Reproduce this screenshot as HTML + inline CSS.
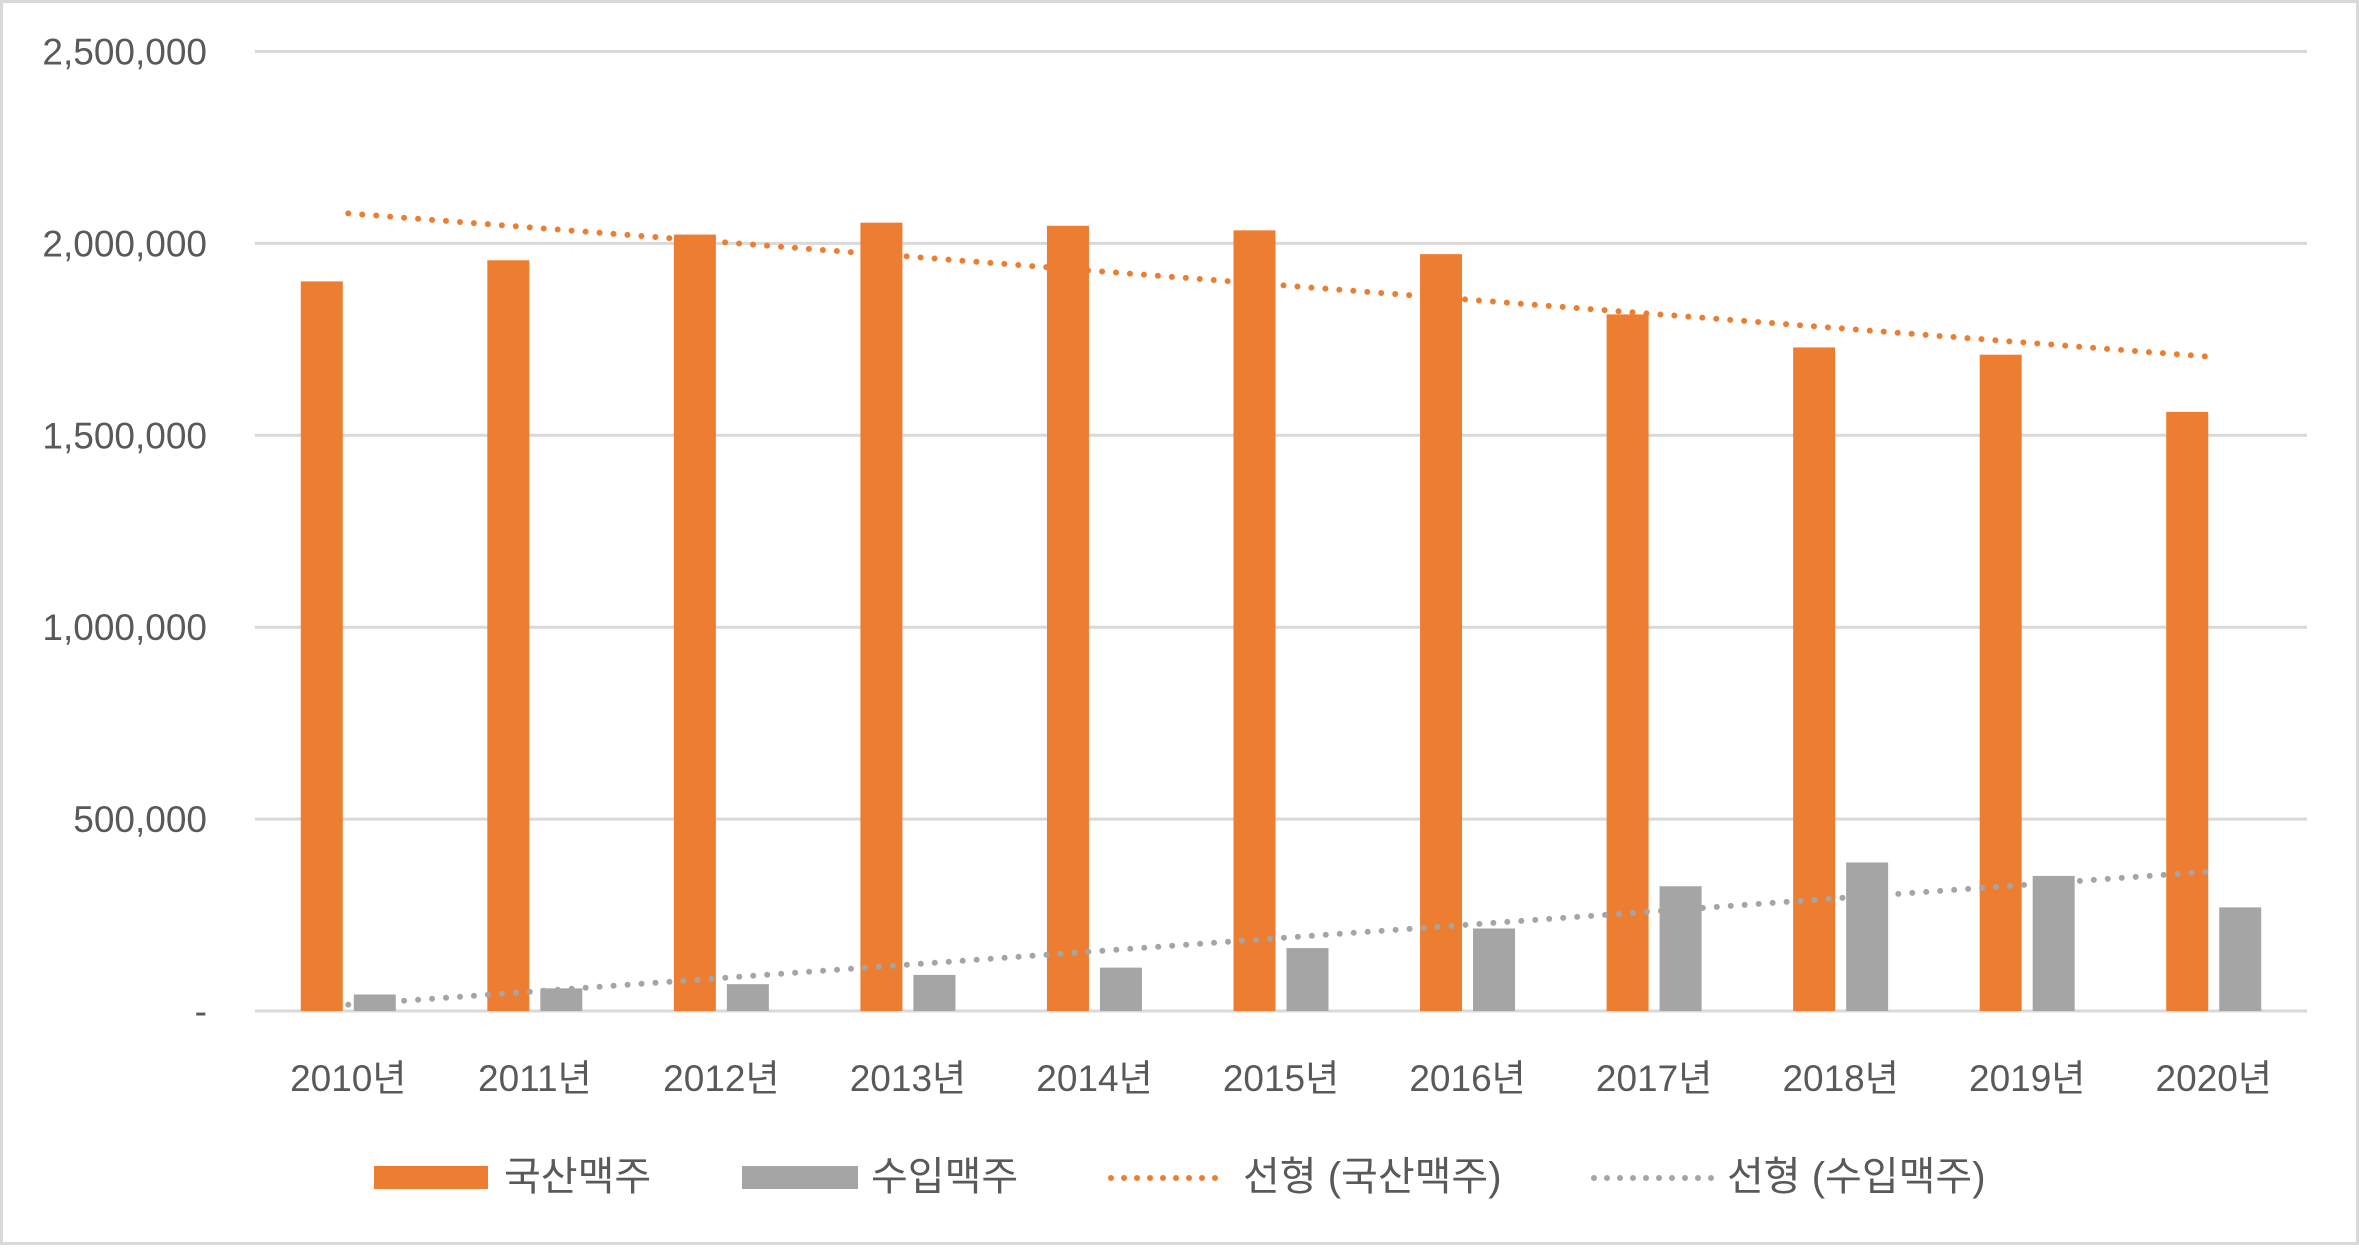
<!DOCTYPE html>
<html><head><meta charset="utf-8"><style>
html,body{margin:0;padding:0;background:#fff}
svg text{font-family:"Liberation Sans","Noto Sans CJK KR",sans-serif;fill:#595959}
</style></head><body>
<svg id="chart" width="2359" height="1245" viewBox="0 0 2359 1245" xmlns="http://www.w3.org/2000/svg">
<rect x="1.5" y="1.5" width="2356" height="1242" fill="#fff" stroke="#d9d9d9" stroke-width="3"/>
<g id="grid"></g><g id="bars"></g><g id="trends"></g><g id="labels"></g>
<g id="legend">
<rect x="374" y="1166" width="114" height="23" fill="#ed7d31"/>
<text x="504" y="1190" font-size="40">국산맥주</text>
<rect x="742" y="1166" width="116" height="23" fill="#a5a5a5"/>
<text x="871" y="1190" font-size="40">수입맥주</text>
<line x1="1111" y1="1178" x2="1226" y2="1178" stroke="#ed7d31" stroke-width="6" stroke-linecap="round" stroke-dasharray="0 13"/>
<text x="1243" y="1190" font-size="40">선형 (국산맥주)</text>
<line x1="1594" y1="1178" x2="1712" y2="1178" stroke="#a5a5a5" stroke-width="6" stroke-linecap="round" stroke-dasharray="0 13"/>
<text x="1727" y="1190" font-size="40">선형 (수입맥주)</text>
</g>
</svg>
<script>
const categories = ["2010년","2011년","2012년","2013년","2014년","2015년","2016년","2017년","2018년","2019년","2020년"];
const domestic = [1901000,1956000,2023000,2054000,2046000,2034000,1972000,1815000,1729000,1710000,1561000];
const imported = [43000,59000,70000,94000,113000,164000,215000,325000,387000,352000,270000];
const yTicks = [0,500000,1000000,1500000,2000000,2500000];
const yTickLabels = ["-","500,000","1,000,000","1,500,000","2,000,000","2,500,000"];

const NS="http://www.w3.org/2000/svg";
const L=255,R=2307,T=51.5,B=1011,YMAX=2500000;
const bw=(R-L)/categories.length, barW=42, gap=11;
const y=v=>B-(v/YMAX)*(B-T);
const xc=i=>L+bw*(i+0.5);
function mk(tag,attrs,parent){const e=document.createElementNS(NS,tag);for(const k in attrs)e.setAttribute(k,attrs[k]);parent.appendChild(e);return e;}
const grid=document.getElementById('grid'),bars=document.getElementById('bars'),trends=document.getElementById('trends'),labels=document.getElementById('labels');
yTicks.forEach((t,i)=>{
  const ln=mk('line',{x1:L,x2:R,y1:y(t),y2:y(t),stroke:'#d9d9d9','stroke-width':3},grid);
  
  
  const tx=mk('text',{x:207,y:y(t)+13,'text-anchor':'end','font-size':37},labels);
  tx.textContent=yTickLabels[i];
  
  
});
categories.forEach((c,i)=>{
  const b1=mk('rect',{x:xc(i)-gap/2-barW,y:y(domestic[i]),width:barW,height:B-y(domestic[i]),fill:'#ed7d31'},bars);
  
  
  const b2=mk('rect',{x:xc(i)+gap/2,y:y(imported[i]),width:barW,height:B-y(imported[i]),fill:'#a5a5a5'},bars);
  
  
  const tx=mk('text',{x:xc(i),y:1091,'text-anchor':'middle','font-size':37},labels);
  tx.textContent=c;
  
  
});
function trend(vals,color,name){
  const n=vals.length;let sx=0,sy=0,sxy=0,sxx=0;
  vals.forEach((v,i)=>{sx+=i;sy+=v;sxy+=i*v;sxx+=i*i;});
  const m=(n*sxy-sx*sy)/(n*sxx-sx*sx),b=(sy-m*sx)/n;
  const ln=mk('line',{x1:xc(0),y1:y(b),x2:xc(n-1),y2:y(b+m*(n-1)),stroke:color,'stroke-width':6,'stroke-linecap':'round','stroke-dasharray':'0 14'},trends);
  
  
}
trend(domestic,'#ed7d31','trendline-domestic');
trend(imported,'#a5a5a5','trendline-imported');
</script>
</body></html>
